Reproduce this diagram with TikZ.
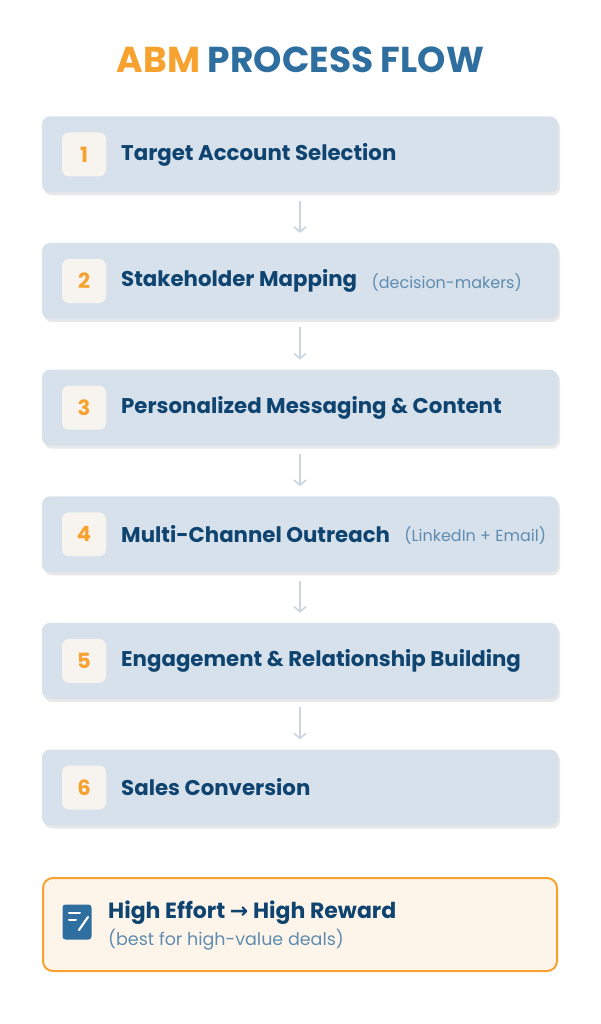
\documentclass[tikz,border=0pt]{standalone}
\usepackage{fontspec}
\setmainfont{Poppins}
\newfontfamily\dejavu{DejaVu Sans}
\usetikzlibrary{shadows,arrows.meta}
\definecolor{boxbg}{HTML}{D6E1EB}
\definecolor{numbg}{HTML}{F7F3EE}
\definecolor{orng}{HTML}{F7A22E}
\definecolor{tblue}{HTML}{2E6FA0}
\definecolor{dblue}{HTML}{0F4470}
\definecolor{lblue}{HTML}{5F8CB0}
\definecolor{arr}{HTML}{C9D6E2}
\definecolor{notebg}{HTML}{FEF5EA}
\begin{document}
\begin{tikzpicture}[x=1pt,y=-1pt,
  stepbox/.style={draw=none,fill=boxbg,rounded corners=8pt,minimum width=516pt,minimum height=76pt,
     drop shadow={shadow xshift=2pt,shadow yshift=-3pt,opacity=0.18}},
  num/.style={fill=numbg,rounded corners=7pt,minimum size=44pt,text=orng,font=\fontsize{21}{24}\selectfont\bfseries},
  lab/.style={anchor=west,text=dblue,font=\fontsize{21.3}{24}\selectfont\bfseries,inner sep=0},
  sub/.style={anchor=west,text=lblue,font=\fontsize{16}{19}\selectfont,inner sep=0},
  con/.style={draw=arr,line width=1.6pt,-{Straight Barb[length=5pt,width=12pt]}}]
\useasboundingbox (0,0) rectangle (601,1024);
\fill[white] (0,0) rectangle (601,1024);
\node[font=\fontsize{36}{40}\selectfont\bfseries] (title) at (300.5,60) {\textcolor{orng}{ABM} \textcolor{tblue}{PROCESS FLOW}};
\foreach \i/\t/\s in {1/Target Account Selection/,2/Stakeholder Mapping/(decision-makers),3/Personalized Messaging \& Content/,4/Multi-Channel Outreach/(LinkedIn + Email),5/Engagement \& Relationship Building/,6/Sales Conversion/}{
  \pgfmathsetmacro\yy{154.5+126.6*(\i-1)}
  \node[stepbox] (s\i) at (300,\yy) {};
  \node[num] (n\i) at (84,\yy) {\i};
  \node[lab] (l\i) at (121,\yy) {\t};
  \node[sub] (p\i) at ([xshift=14pt,yshift=-1pt]l\i.east) {\s};
}
\foreach \a/\b in {1/2,2/3,3/4,4/5,5/6}{
  \draw[con] ([yshift=-8pt]s\a.south) -- ([yshift=10pt]s\b.north);
}
\node[draw=orng,line width=2pt,fill=notebg,rounded corners=10pt,minimum width=514pt,minimum height=93pt] (note) at (300,924.5) {};
\node[fill=tblue,rounded corners=3pt,minimum width=29pt,minimum height=35pt,inner sep=0] (icon) at (77,922) {};
\draw[white,line width=2pt,line cap=round] (69,913) -- (80,913) (69,920) -- (76,920);
\draw[white,line width=2.2pt,line cap=round] (88,917) -- (79,930);
\node[anchor=west,text=dblue,font=\fontsize{22}{25}\selectfont\bfseries,inner sep=0] (h) at (108,913) {High Effort {\dejavu\bfseries →} High Reward};
\node[anchor=west,text=lblue,font=\fontsize{17.5}{20}\selectfont,inner sep=0] (hs) at (108,940) {(best for high-value deals)};
\end{tikzpicture}
\end{document}
